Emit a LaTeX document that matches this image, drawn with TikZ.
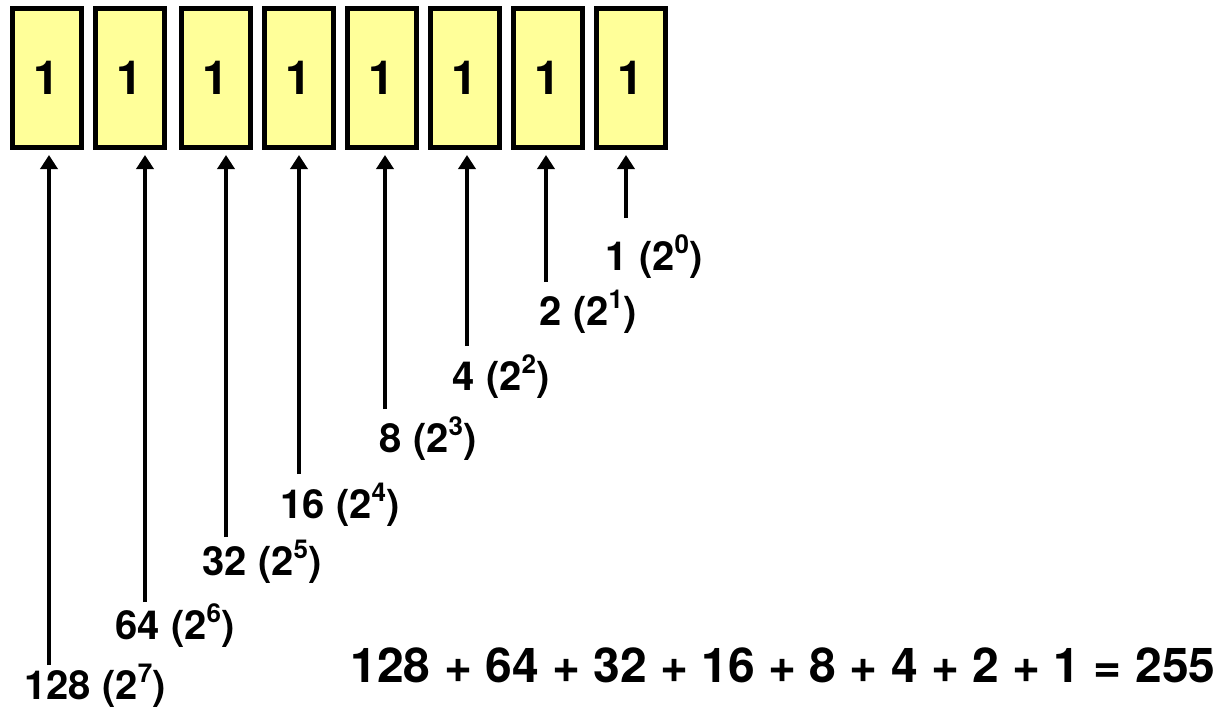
\documentclass[tikz,border=0pt]{standalone}
\usepackage{fontspec}
\setmainfont{TeX Gyre Heros}
\usetikzlibrary{arrows.meta}
\definecolor{boxfill}{HTML}{FFFF99}
\newcommand\pw[1]{\raisebox{17pt}{\fontsize{26}{26}\selectfont #1}}
\begin{document}
\begin{tikzpicture}[x=1pt,y=-1pt,
  bitbox/.style={draw=black, line width=5pt, fill=boxfill, minimum width=69pt, minimum height=139pt,
     inner sep=0pt, font=\fontsize{47}{47}\selectfont\bfseries},
  arr/.style={line width=4.6pt, -{Triangle[length=14pt,width=17pt]}, shorten >=5pt},
  lbl/.style={anchor=base, inner sep=0pt, font=\fontsize{40}{40}\selectfont\bfseries},
  sumtxt/.style={anchor=base, inner sep=0pt, font=\fontsize{48}{48}\selectfont\bfseries}]
\useasboundingbox (0,0) rectangle (1219,710);
\foreach \i/\cx in {1/47,2/130,3/216,4/299,5/382,6/465,7/548,8/631}
  \node[bitbox] (b\i) at (\cx,78) {1};
% arrow bottoms
\coordinate (s1) at (49,665);
\coordinate (s2) at (145,602);
\coordinate (s3) at (226,537);
\coordinate (s4) at (299,474);
\coordinate (s5) at (385,409);
\coordinate (s6) at (467,346);
\coordinate (s7) at (546,282);
\coordinate (s8) at (626,218);
\foreach \i in {1,...,8}
  \draw[arr] (s\i) -- (s\i |- b\i.south);
% labels
\node[lbl] (l1) at (95,699) {128 (2\pw{7})};
\node[lbl] (l2) at (175,639) {64 (2\pw{6})};
\node[lbl] (l3) at (262,575) {32 (2\pw{5})};
\node[lbl] (l4) at (340,518) {16 (2\pw{4})};
\node[lbl] (l5) at (428,452) {8 (2\pw{3})};
\node[lbl] (l6) at (501,390) {4 (2\pw{2})};
\node[lbl] (l7) at (588,325) {2 (2\pw{1})};
\node[lbl] (l8) at (654,270) {1 (2\pw{0})};
\node[sumtxt] (sum) at (783,682) {128 + 64 + 32 + 16 + 8 + 4 + 2 + 1 = 255};
\end{tikzpicture}
\end{document}
